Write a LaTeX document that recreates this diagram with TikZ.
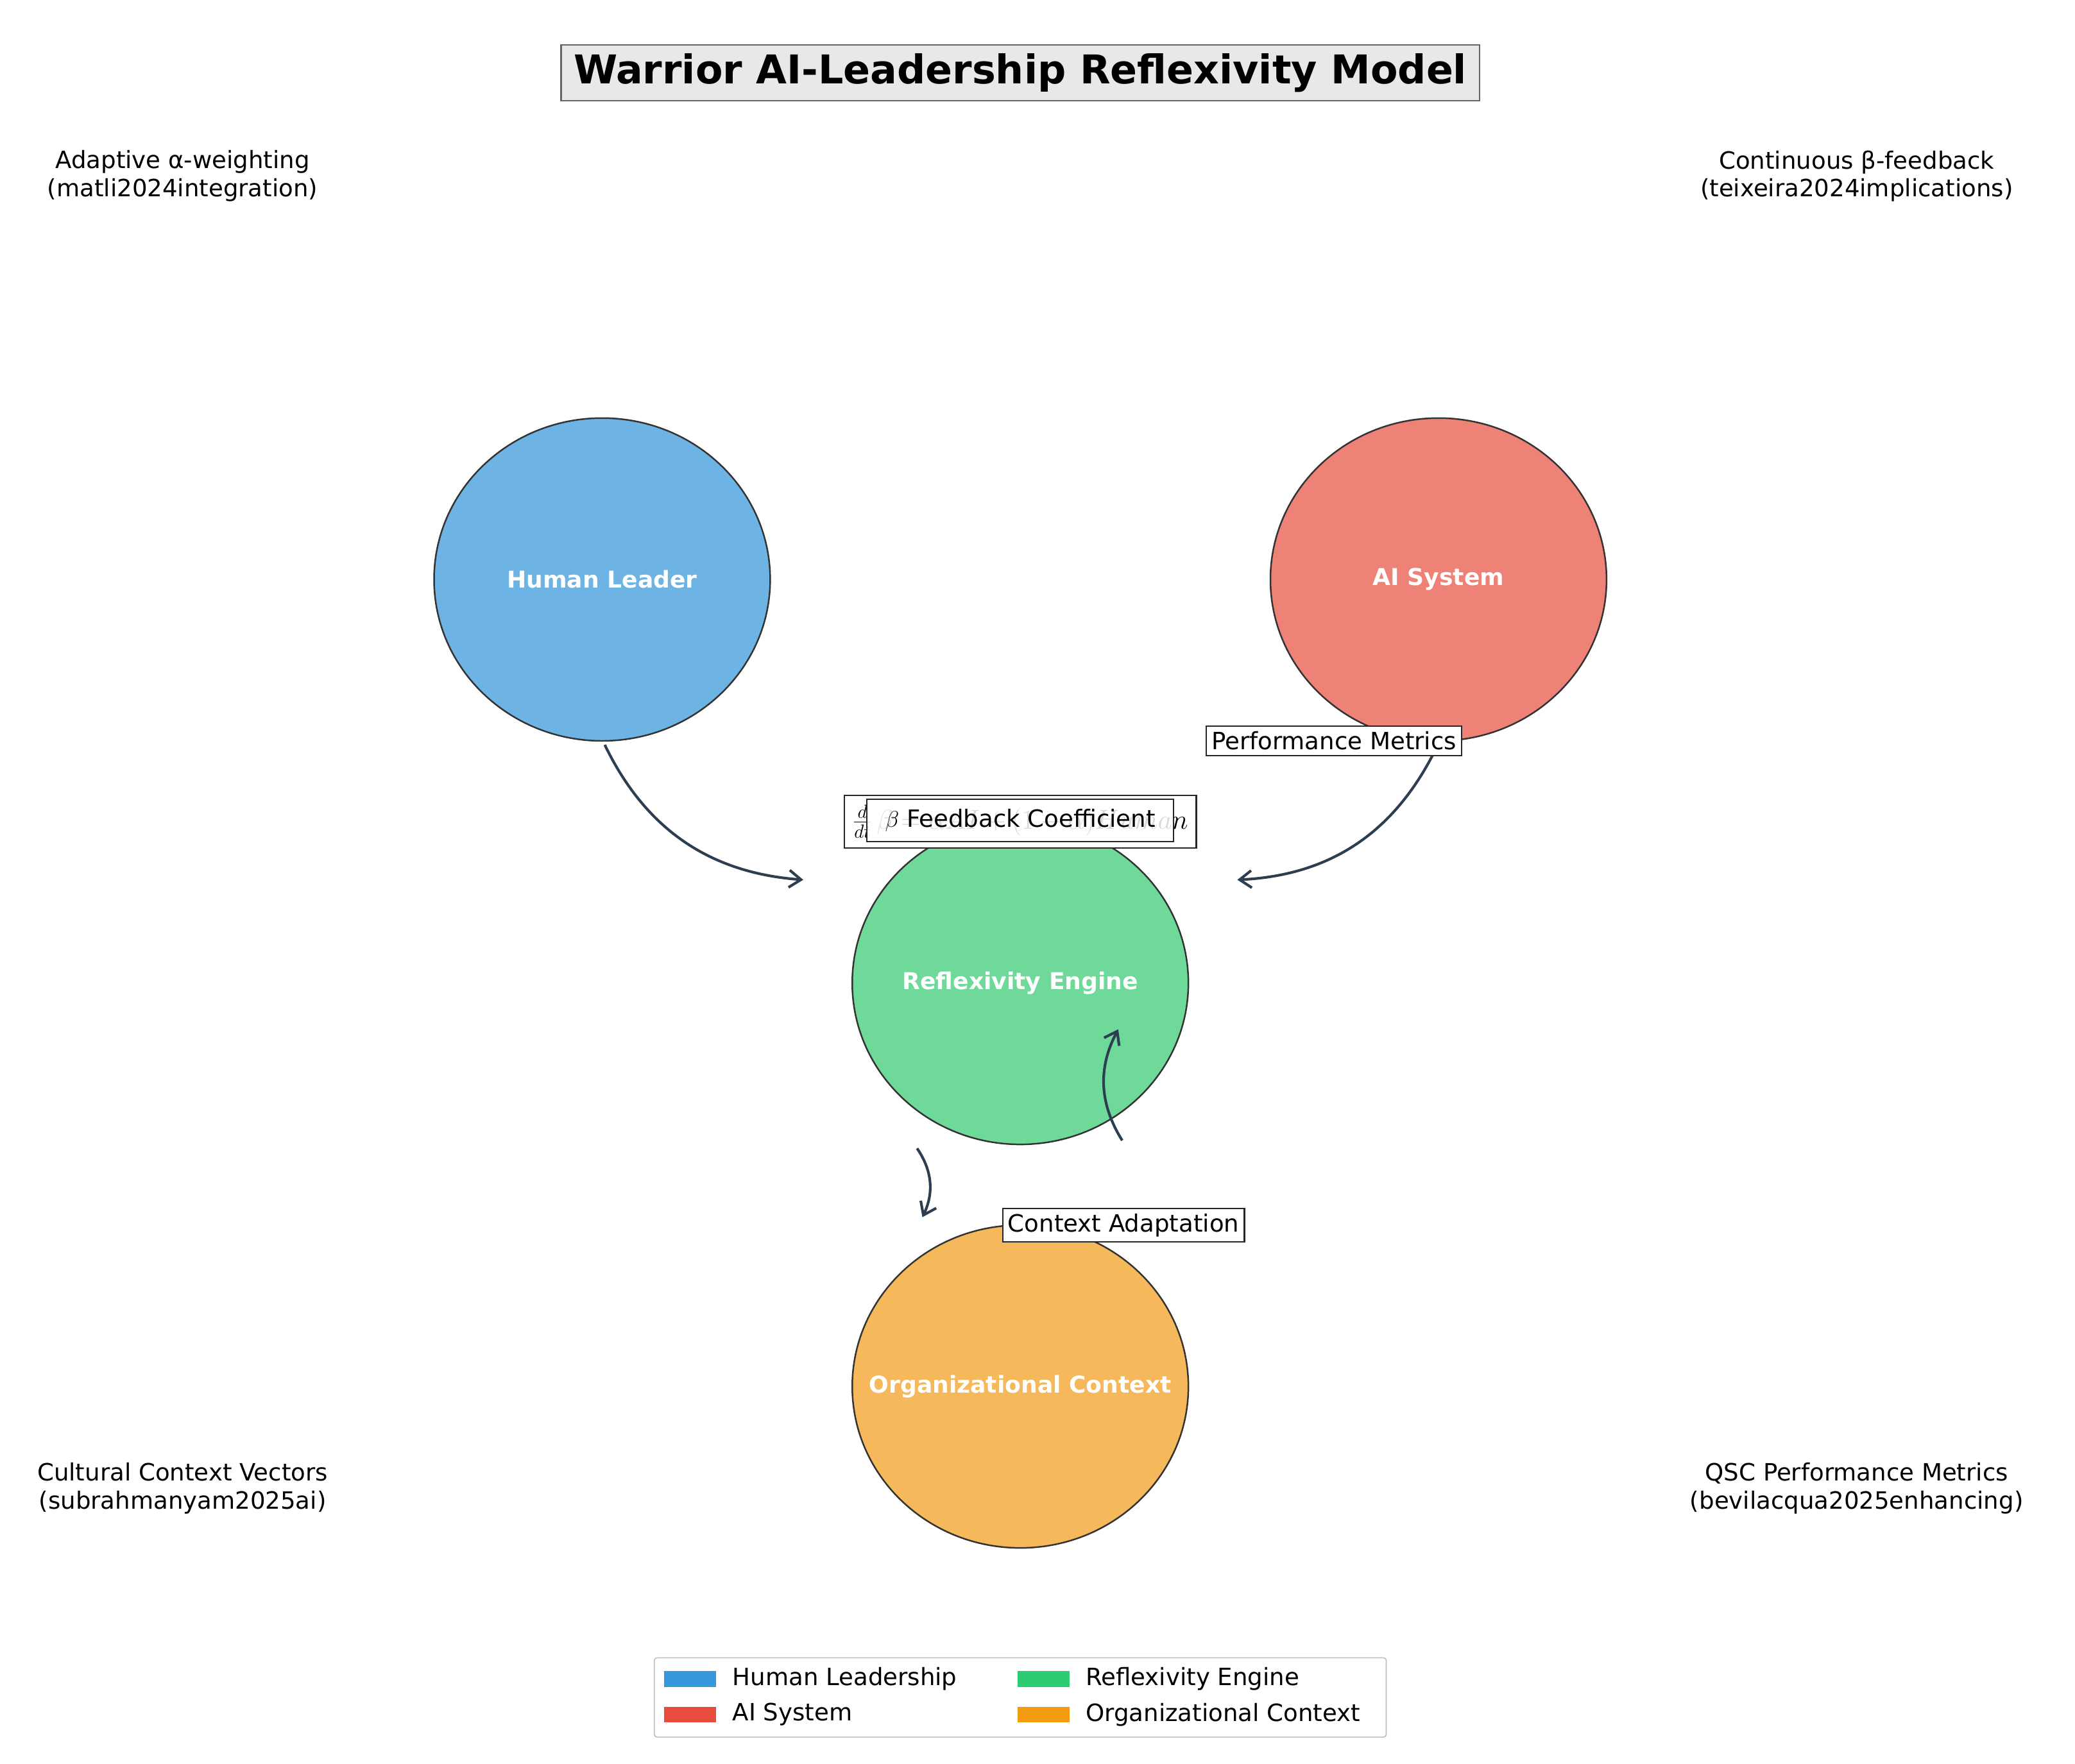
\documentclass[tikz,border=0pt]{standalone}
\usepackage{fontspec}
\setmainfont{DejaVu Sans}
\usetikzlibrary{arrows.meta,shapes.geometric}
\definecolor{cb}{HTML}{6DB4E4}
\definecolor{cr}{HTML}{EE8276}
\definecolor{cg}{HTML}{6FD99A}
\definecolor{co}{HTML}{F5B85A}
\definecolor{lb}{HTML}{3498DB}
\definecolor{lr}{HTML}{E74C3C}
\definecolor{lg}{HTML}{2ECC71}
\definecolor{lo}{HTML}{F39C12}
\definecolor{arr}{HTML}{2C3E50}
\begin{document}
\begin{tikzpicture}[x=1pt,y=-1pt,
  circ/.style={ellipse,draw=black!80,line width=1.2pt,minimum width=254pt,minimum height=244pt,inner sep=0pt},
  ctext/.style={text=white,font=\bfseries\fontsize{17.5}{20}\selectfont},
  lab/.style={draw=black!85,fill=white,line width=1pt,font=\fontsize{18}{21}\selectfont,inner sep=4pt},
  corner/.style={align=center,font=\fontsize{18}{21}\selectfont},
  ar/.style={draw=arr,line width=2pt,-{Straight Barb[length=9pt,width=13pt]}},
  leg/.style={font=\fontsize{18}{21}\selectfont,anchor=west}]
\useasboundingbox (0,0) rectangle (1568,1333);
\node[draw=black!60,fill=black!9,line width=1pt,font=\bfseries\fontsize{30}{34}\selectfont,minimum width=694pt,minimum height=42pt] (title) at (771,55) {Warrior AI-Leadership Reflexivity Model};
\node[corner] (c1) at (138,133) {Adaptive α-weighting\\(matli2024integration)};
\node[corner] (c2) at (1403,133) {Continuous β-feedback\\(teixeira2024implications)};
\node[corner] (c3) at (138,1125) {Cultural Context Vectors\\(subrahmanyam2025ai)};
\node[corner] (c4) at (1403,1125) {QSC Performance Metrics\\(bevilacqua2025enhancing)};
\node[circ,fill=cb] (hl) at (455,438) {};
\node[circ,fill=cr] (ai) at (1087,438) {};
\node[circ,fill=cg] (re) at (771,743) {};
\node[circ,fill=co] (oc) at (771,1048) {};
\node[ctext] (hlt) at (hl) {Human Leader};
\node[ctext] (ait) at (ai) {AI System};
\node[ctext] (ret) at (re) {Reflexivity Engine};
\node[ctext] (oct) at (oc) {Organizational Context};
\coordinate (a1s) at (457,563); \coordinate (a1e) at (607,665);
\coordinate (a2s) at (1083,570); \coordinate (a2e) at (935,665);
\coordinate (a3s) at (848,862); \coordinate (a3e) at (845,778);
\coordinate (a4s) at (693,868); \coordinate (a4e) at (697,920);
\draw[ar] (a1s) to[bend right=30] (a1e);
\draw[ar] (a2s) to[bend left=30] (a2e);
\draw[ar] (a3s) to[bend left=30] (a3e);
\draw[ar] (a4s) to[bend left=30] (a4e);
\node[lab] (pm) at (1008,560) {Performance Metrics};
\node[lab,minimum width=266pt,minimum height=40pt,inner xsep=3pt] (eq) at (771,621) {\fontsize{20}{22}\selectfont$\frac{d}{dt}\,\beta=\alpha AI+(1-\alpha)Human$};
\node[lab,fill opacity=0.85,text opacity=1,minimum width=232pt,minimum height=32pt] (fb) at (771,620) {$\beta$ Feedback Coefficient};
\node[lab] (ca) at (849,926) {Context Adaptation};
\node[draw=black!25,fill=white,line width=0.8pt,minimum width=553pt,minimum height=60pt,rounded corners=2pt] (lg) at (771,1283) {};
\fill[lb] (502,1263) rectangle (541,1275); \node[leg] (l1) at (550,1269) {Human Leadership};
\fill[lr] (502,1290) rectangle (541,1302); \node[leg] (l2) at (550,1296) {AI System};
\fill[lg] (769,1263) rectangle (808,1275); \node[leg] (l3) at (817,1269) {Reflexivity Engine};
\fill[lo] (769,1290) rectangle (808,1302); \node[leg] (l4) at (817,1296) {Organizational Context};
\end{tikzpicture}
\end{document}
